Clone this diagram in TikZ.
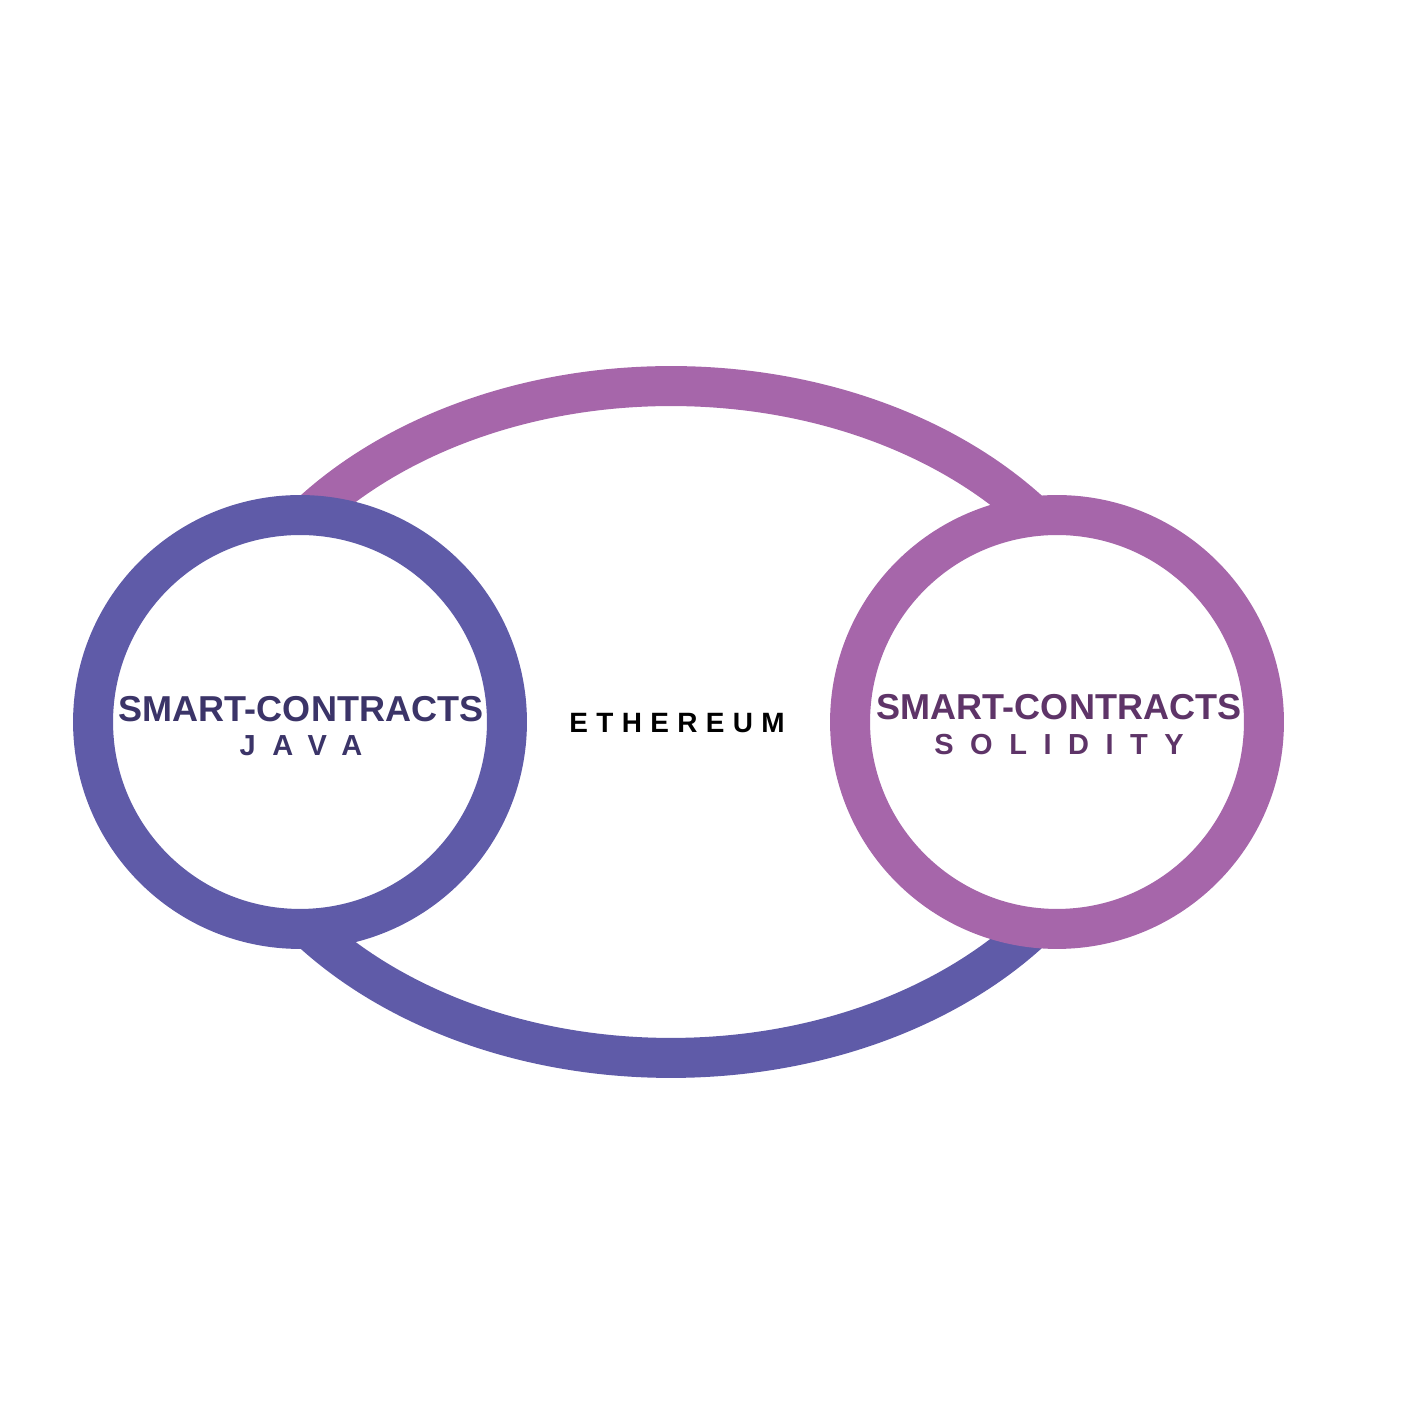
\documentclass[tikz,border=0pt]{standalone}
\usepackage{fontspec}
\setmainfont{Liberation Sans}
\usetikzlibrary{positioning}
\definecolor{javablue}{RGB}{95,91,168}
\definecolor{solpurple}{RGB}{166,102,170}
\definecolor{javatext}{RGB}{59,52,104}
\definecolor{soltext}{RGB}{94,52,104}

\begin{document}
\begin{tikzpicture}[x=0.02cm, y=0.02cm,
  ring/.style={circle, draw, line width=0.8cm, fill=white, minimum size=8.28cm, inner sep=0pt},
  band/.style={line width=0.8cm},
  title/.style={anchor=base, font=\bfseries\fontsize{20.5}{24}\selectfont},
  sub/.style={anchor=base, font=\bfseries\fontsize{16.5}{20}\selectfont\addfontfeature{LetterSpace=57}}]
  \useasboundingbox (0,0) rectangle (1416,1416);
  \coordinate (Mid) at (671,694);
  % the big ring, two halves
  \draw[band, solpurple] (Mid) ++(460,0) arc[start angle=0, end angle=180, x radius=9.2cm, y radius=6.72cm];
  \draw[band, javablue] (Mid) ++(-460,0) arc[start angle=180, end angle=360, x radius=9.2cm, y radius=6.72cm];
  \node (JavaRing) [ring, draw=javablue] at (300,694) {};
  \node (SolRing) [ring, draw=solpurple] at (1057,694) {};
  \node (Java) [title, javatext] at (301,694) {SMART-CONTRACTS};
  \node (JavaSub) [sub, javatext] at (301,660) {JAVA};
  \node (Sol) [title, soltext] at (1059,696) {SMART-CONTRACTS};
  \node (SolSub) [sub, soltext] at (1059,661) {SOLIDITY};
  \node (Eth) [anchor=base, font=\bfseries\fontsize{15.9}{19}\selectfont\addfontfeature{LetterSpace=30}] at (677,683) {ETHEREUM};
\end{tikzpicture}
\end{document}
